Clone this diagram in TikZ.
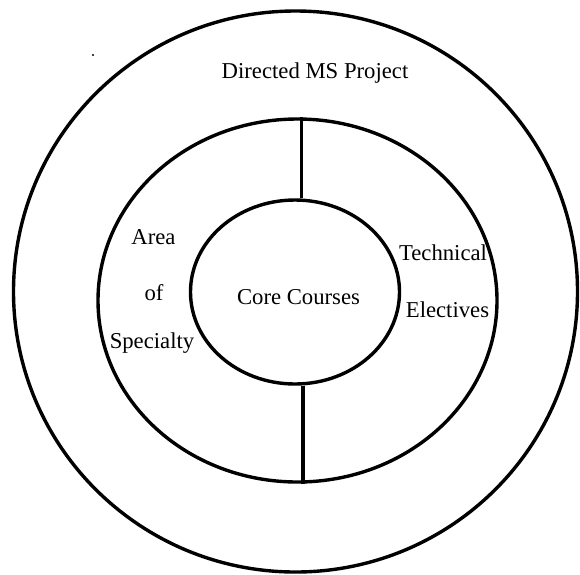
\documentclass[tikz,border=0pt]{standalone}
\usepackage{fontspec}
\setmainfont{Liberation Serif}
\usetikzlibrary{shapes.geometric}
\tikzset{
  ring/.style={draw, ellipse, line width=3.4pt, inner sep=0pt},
  ringtext/.style={font=\fontsize{22.7}{27}\selectfont, inner sep=0pt}
}

\begin{document}
\begin{tikzpicture}[x=1pt,y=-1pt]
  \useasboundingbox (0,0) rectangle (580,574);

  % the three rings
  \node [ring, minimum width=564pt, minimum height=561pt] (project) at (295.5,291.5) {};
  \node [ring, minimum width=399pt, minimum height=363pt] (middle) at (297.5,300.5) {};
  \node [ring, minimum width=209pt, minimum height=184pt] (core) at (295,292) {};

  % split of the middle ring
  \draw [line width=3.4pt] ([xshift=4pt]middle.north) -- ([xshift=4pt]middle.north |- core.north);
  \draw [line width=3.4pt] ([xshift=5.5pt]middle.south |- core.south) -- ([xshift=5.5pt]middle.south);

  \node [ringtext] (nproj) at (315,73) {Directed MS Project};
  \node [ringtext] (ncore) at (298.5,297) {Core Courses};

  \node [ringtext] (narea) at (153.5,237) {Area};
  \node [ringtext] (nof) at (154,293) {of};
  \node [ringtext] (nspec) at (152,343) {Specialty};

  \node [ringtext] (ntech) at (443,253) {Technical};
  \node [ringtext] (nelec) at (447.5,310) {Electives};

  \fill (93,55) circle (1.2pt);
\end{tikzpicture}
\end{document}
